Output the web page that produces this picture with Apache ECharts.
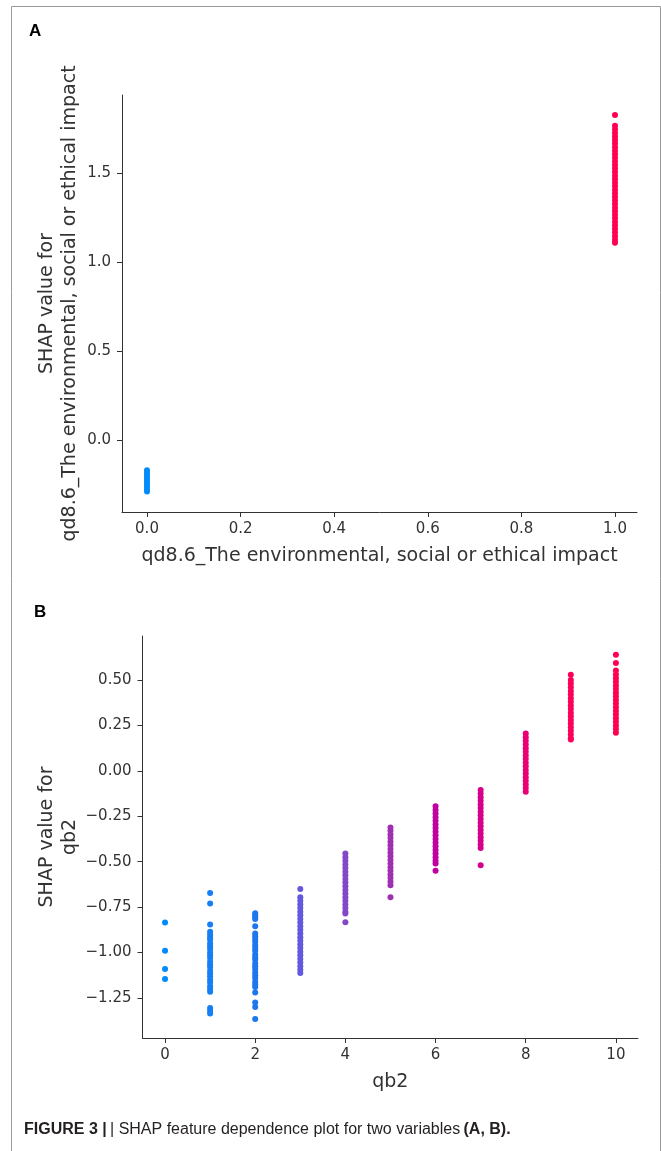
<!DOCTYPE html>
<html><head><meta charset="utf-8">
<script src="https://cdn.jsdelivr.net/npm/echarts@6/dist/echarts.min.js"></script>
<style>html,body{margin:0;padding:0;background:#fff}#c{width:661px;height:1151px}</style>
</head><body><div id="c"></div>
<script>
// ---------- Panel A data ----------
const featureA = 'qd8.6_The environmental, social or ethical impact';
const yNameA = 'SHAP value for\nqd8.6_The environmental, social or ethical impact';
const xTicksA = [0, 0.2, 0.4, 0.6, 0.8, 1.0];
const yTicksA = [0, 0.5, 1.0, 1.5];
const shapA_x0 = [-0.17, -0.185, -0.2, -0.215, -0.23, -0.245, -0.26, -0.275, -0.29];
const shapA_x1 = [1.826, 1.765, 1.745, 1.725, 1.705, 1.685, 1.665, 1.645, 1.625, 1.605, 1.585,
  1.565, 1.545, 1.525, 1.505, 1.485, 1.465, 1.445, 1.425, 1.405, 1.385, 1.365, 1.345, 1.325,
  1.305, 1.285, 1.265, 1.245, 1.225, 1.205, 1.185, 1.165, 1.145, 1.125, 1.108];
const colorsA = ['#008bfb', '#ff0052'];

// ---------- Panel B data ----------
const featureB = 'qb2';
const yNameB = 'SHAP value for\nqb2';
const xTicksB = [0, 2, 4, 6, 8, 10];
const yTicksB = [-1.25, -1.0, -0.75, -0.5, -0.25, 0, 0.25, 0.5];
const qb2_0 = [-0.835, -0.99, -1.09, -1.145];
const qb2_1 = [-0.672, -0.73, -0.845, -0.885, -0.9, -0.915, -0.93, -0.95, -0.965, -0.98, -1.0,
  -1.015, -1.03, -1.05, -1.065, -1.08, -1.1, -1.115, -1.13, -1.15, -1.165, -1.185, -1.2, -1.215,
  -1.305, -1.32, -1.335];
const qb2_2 = [-0.784, -0.795, -0.805, -0.815, -0.855, -0.895, -0.91, -0.925, -0.94, -0.96,
  -0.975, -0.99, -1.01, -1.025, -1.04, -1.06, -1.075, -1.09, -1.11, -1.125, -1.14, -1.16,
  -1.175, -1.19, -1.22, -1.275, -1.3, -1.365];
const qb2_3 = [-0.65, -0.695, -0.715, -0.735, -0.755, -0.775, -0.795, -0.815, -0.835, -0.855,
  -0.875, -0.895, -0.915, -0.935, -0.955, -0.975, -0.995, -1.015, -1.035, -1.055, -1.075,
  -1.095, -1.112];
const qb2_4 = [-0.455, -0.475, -0.495, -0.515, -0.535, -0.555, -0.575, -0.595, -0.615, -0.635,
  -0.655, -0.675, -0.695, -0.715, -0.735, -0.755, -0.775, -0.785, -0.833];
const qb2_5 = [-0.312, -0.33, -0.35, -0.37, -0.39, -0.41, -0.43, -0.45, -0.47, -0.49, -0.51,
  -0.53, -0.55, -0.57, -0.59, -0.61, -0.63, -0.696];
const qb2_6 = [-0.195, -0.215, -0.235, -0.255, -0.275, -0.295, -0.315, -0.335, -0.355, -0.375,
  -0.395, -0.415, -0.435, -0.455, -0.475, -0.495, -0.51, -0.55];
const qb2_7 = [-0.105, -0.125, -0.145, -0.165, -0.185, -0.205, -0.225, -0.245, -0.265, -0.285,
  -0.305, -0.325, -0.345, -0.365, -0.385, -0.405, -0.425, -0.52];
const qb2_8 = [0.205, 0.185, 0.165, 0.145, 0.125, 0.105, 0.085, 0.065, 0.045, 0.025, 0.005,
  -0.015, -0.035, -0.055, -0.075, -0.095, -0.115];
const qb2_9 = [0.529, 0.5, 0.48, 0.46, 0.44, 0.42, 0.4, 0.38, 0.36, 0.34, 0.32, 0.3, 0.28,
  0.26, 0.24, 0.22, 0.2, 0.18, 0.172];
const qb2_10 = [0.639, 0.593, 0.552, 0.53, 0.51, 0.49, 0.47, 0.45, 0.43, 0.41, 0.39, 0.37,
  0.35, 0.33, 0.31, 0.29, 0.27, 0.25, 0.23, 0.21];
const columnsB = [qb2_0, qb2_1, qb2_2, qb2_3, qb2_4, qb2_5, qb2_6, qb2_7, qb2_8, qb2_9, qb2_10];
const colorsB = ['#008bfb', '#157ff3', '#1f77ee', '#6358df', '#8348c8', '#a030b2', '#c000a0',
  '#d5008c', '#ea0074', '#fc005a', '#ff0052'];

// ---------- chart ----------
const TXT = '#333333';
const FONT = 'DejaVu Sans';
function minus(s) { return s.replace('-', '\u2212'); }

function axisCommon(ticks, fmt, isY) {
  return {
    type: 'value',
    splitLine: { show: false },
    axisLine: { show: true, onZero: false, lineStyle: { color: TXT, width: 1 } },
    axisTick: { show: true, length: 5, lineStyle: { color: TXT }, customValues: ticks },
    axisLabel: { color: TXT, fontFamily: FONT, fontSize: 15, margin: isY ? 11 : 10,
      customValues: ticks, formatter: v => minus(fmt(v)) },
    nameLocation: 'middle',
    nameMoveOverlap: false,
    nameTextStyle: { color: TXT, fontFamily: FONT, fontSize: 19, lineHeight: 23 }
  };
}

const series = [];
[shapA_x0, shapA_x1].forEach((col, i) => {
  series.push({ type: 'scatter', xAxisIndex: 0, yAxisIndex: 0, symbolSize: 6,
    itemStyle: { color: colorsA[i], opacity: 1 },
    data: col.map(v => [xTicksA[0] + i, v]) });
});
columnsB.forEach((col, i) => {
  series.push({ type: 'scatter', xAxisIndex: 1, yAxisIndex: 1, symbolSize: 6,
    itemStyle: { color: colorsB[i], opacity: 1 },
    data: col.map(v => [i, v]) });
});

const chart = echarts.init(document.getElementById('c'), null, { renderer: 'canvas' });
chart.setOption({
  backgroundColor: '#ffffff',
  animation: false,
  grid: [
    { left: 122, top: 95, width: 515, height: 417 },
    { left: 142.5, top: 636, width: 495.5, height: 402 }
  ],
  xAxis: [
    Object.assign(axisCommon(xTicksA, v => v.toFixed(1), false),
      { gridIndex: 0, min: -0.0534, max: 1.047, name: featureA, nameGap: 33 }),
    Object.assign(axisCommon(xTicksB, v => String(v), false),
      { gridIndex: 1, min: -0.5, max: 10.49, name: featureB, nameGap: 33 })
  ],
  yAxis: [
    Object.assign(axisCommon(yTicksA, v => v.toFixed(1), true),
      { gridIndex: 0, min: -0.4045, max: 1.938, name: yNameA, nameGap: 40 }),
    Object.assign(axisCommon(yTicksB, v => v.toFixed(2), true),
      { gridIndex: 1, min: -1.47, max: 0.742, name: yNameB, nameGap: 61 })
  ],
  series: series,
  graphic: [
    { type: 'polyline', silent: true, shape: { points: [[11.5, 1151], [11.5, 6.5], [660.5, 6.5], [660.5, 1151]] },
      style: { stroke: '#9a9a9a', lineWidth: 1, fill: null } },
    { type: 'text', left: 29, top: 23, style: { text: 'A', font: 'bold 17px "Liberation Sans"', fill: '#000' } },
    { type: 'text', left: 34, top: 604, style: { text: 'B', font: 'bold 17px "Liberation Sans"', fill: '#000' } },
    { type: 'text', left: 24, top: 1122, style: {
        text: '{b|FIGURE 3 |} {r|| SHAP feature dependence plot for two variables} {b|(A, B).}',
        rich: {
          b: { fontFamily: '"Liberation Sans Narrow", "Liberation Sans"', fontWeight: 'bold', fontSize: 16, fill: '#231f20' },
          r: { fontFamily: '"Liberation Sans Narrow", "Liberation Sans"', fontSize: 16, fill: '#231f20' }
        } } }
  ]
});
</script></body></html>
